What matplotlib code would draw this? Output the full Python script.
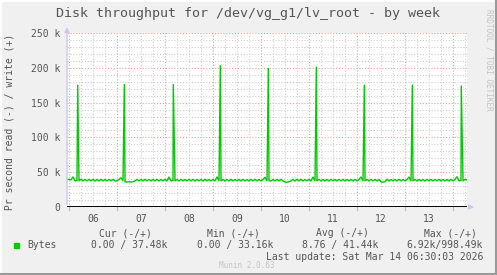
import matplotlib
matplotlib.use("Agg")
import matplotlib.pyplot as plt
import numpy as np
from matplotlib.lines import Line2D

# write throughput (kB/s), hourly, hour 0 = Fri Mar 6 00:00
first_hour = -1
write_before = [39.6]
write_days = [
    [39.6, 38.9, 43.2, 37.6, 37.8, 37.4, 39.9, 37.5, 39.7, 37.4, 39.8, 37.5,
     39.6, 37.3, 39.7, 37.4, 39.8, 37.5, 39.6, 37.4, 39.7, 37.5, 39.6, 37.4],
    [37.5, 39.6, 42.0, 37.8, 36.2, 35.8, 36.3, 35.9, 36.4, 37.4, 39.7, 37.5,
     39.6, 37.4, 39.8, 37.5, 39.6, 37.4, 39.7, 37.5, 39.8, 37.4, 39.6, 37.5],
    [39.7, 37.4, 43.0, 37.6, 37.8, 37.5, 39.7, 37.4, 39.8, 37.5, 39.6, 37.4,
     39.7, 37.5, 39.8, 37.4, 39.6, 37.5, 39.7, 37.4, 39.8, 37.5, 39.6, 37.4],
    [39.7, 37.5, 43.2, 37.6, 37.5, 39.6, 37.4, 39.7, 37.5, 39.8, 37.4, 39.6,
     37.5, 39.7, 37.4, 39.8, 37.5, 39.6, 37.4, 39.7, 37.5, 39.8, 37.4, 39.6],
    [37.5, 39.7, 42.8, 37.6, 37.7, 37.4, 39.6, 37.5, 39.7, 37.4, 39.8, 37.5,
     36.0, 35.4, 36.2, 37.5, 39.6, 37.4, 39.7, 37.5, 39.8, 37.4, 39.6, 37.5],
    [39.7, 37.4, 43.0, 37.6, 37.5, 39.8, 37.4, 39.6, 37.5, 39.7, 37.4, 39.8,
     37.5, 39.6, 37.4, 39.7, 37.5, 39.8, 37.4, 39.6, 37.5, 39.7, 37.4, 39.8],
    [37.5, 39.6, 43.1, 37.6, 37.5, 39.7, 37.4, 39.8, 37.5, 39.6, 37.4, 39.7,
     36.0, 35.6, 36.3, 39.8, 37.4, 39.6, 37.5, 39.7, 37.4, 39.8, 37.5, 39.6],
    [37.4, 39.7, 43.0, 37.6, 37.5, 39.8, 37.4, 39.6, 37.5, 39.7, 37.4, 39.8,
     37.5, 39.6, 37.4, 39.7, 37.5, 39.8, 37.4, 39.6, 37.5, 39.7, 37.4, 39.8],
    [37.5, 39.6, 43.5, 37.6, 37.8, 37.4, 39.6, 38.9],
]

# nightly bursts: hour and peak (kB/s)
burst_hours = [4.35, 27.65, 52.15, 75.65, 99.65, 123.65, 147.65, 171.65, 196.15]
burst_peaks = [175, 176, 176, 203, 199, 201, 175, 175, 174]

day_labels = ["06", "07", "08", "09", "10", "11", "12", "13"]
y_ticks = [0, 50, 100, 150, 200, 250]
y_labels = ["0", "50 k", "100 k", "150 k", "200 k", "250 k"]

legend_head = ["Cur (-/+)", "Min (-/+)", "Avg (-/+)", "Max (-/+)"]
legend_vals = ["0.00 / 37.48k", "0.00 / 33.16k", "8.76 / 41.44k", "6.92k/998.49k"]

W, H = 497, 275
TXT = "#555555"
MONO = "DejaVu Sans Mono"
RED = "#eea0a0"
GREY = "#cfcfcf"


def fx(px):
    return px / W


def fy(py):
    return 1 - py / H


fig = plt.figure(figsize=(W / 100, H / 100), dpi=100, facecolor="#f0f0f0")
ax = fig.add_axes([fx(67), fy(207), 400 / W, 174 / H])
ax.set_facecolor("white")

vals = write_before + [v for day in write_days for v in day]
hours = first_hour + np.arange(len(vals))
t = np.concatenate([hours, burst_hours])
v = np.concatenate([vals, burst_peaks])
order = np.argsort(t)
ax.plot(t[order], v[order], color="#00cc00", lw=1.0, zorder=4)

ax.set_xlim(-1, 199)
ax.set_ylim(0, 250)

# grid
dots = (0, (1, 1.6))
for yy in range(10, 251, 10):
    major = yy % 50 == 0
    ax.axhline(yy, color=RED if major else GREY, lw=0.8, ls=dots, zorder=1)
for hh in range(0, 199, 6):
    major = hh % 24 == 0
    ax.axvline(hh, color=RED if major else GREY, lw=0.8, ls=dots, zorder=1)
    if major:
        ax.plot([hh, hh], [0, -4], color=RED, lw=0.8, clip_on=False)

ax.axhline(0, color="black", lw=1.4, zorder=5)

ax.set_yticks(y_ticks)
ax.set_yticklabels(y_labels)
ax.set_xticks([12 + 24 * i for i in range(len(day_labels))])
ax.set_xticklabels(day_labels)
ax.tick_params(length=0, labelsize=7, colors=TXT, pad=5)
for lab in ax.get_xticklabels() + ax.get_yticklabels():
    lab.set_family(MONO)
for s in ax.spines.values():
    s.set_visible(False)

# axes lines with arrows
axis_col = "#c8c8f0"
ax.annotate("", xy=(0, 1.05), xytext=(0, 0), xycoords="axes fraction",
            arrowprops=dict(arrowstyle="-|>", color=axis_col, lw=1,
                            mutation_scale=7), zorder=6)
ax.annotate("", xy=(1.025, 0), xytext=(1.0, 0), xycoords="axes fraction",
            arrowprops=dict(arrowstyle="-|>", color=axis_col, lw=1,
                            mutation_scale=7), zorder=6)

fig.text(fx(248), fy(14), "Disk throughput for /dev/vg_g1/lv_root - by week",
         ha="center", va="center", family=MONO, fontsize=9.6, color=TXT)
fig.text(fx(10), fy(122), "Pr second read (-) / write (+)", rotation=90,
         ha="center", va="center", family=MONO, fontsize=7, color=TXT)
fig.text(fx(489), fy(60), "RRDTOOL / TOBI OETIKER", rotation=-90,
         ha="center", va="center", family=MONO, fontsize=5.6, color="#c4c4c4")

head_x = [125, 233, 342, 450]
val_x = [167, 273, 378, 483]
for hx, txt in zip(head_x, legend_head):
    fig.text(fx(hx), fy(233), txt, ha="center", va="center", family=MONO,
             fontsize=7, color=TXT)
for vx, txt in zip(val_x, legend_vals):
    fig.text(fx(vx), fy(245), txt, ha="right", va="center", family=MONO,
             fontsize=7, color=TXT)
fig.add_artist(plt.Rectangle((fx(14), fy(248)), 5 / W, 5 / H,
                             transform=fig.transFigure, color="#00cc00"))
fig.text(fx(27), fy(245), "Bytes", ha="left", va="center", family=MONO,
         fontsize=7, color=TXT)
fig.text(fx(483), fy(257), "Last update: Sat Mar 14 06:30:03 2026", ha="right",
         va="center", family=MONO, fontsize=7, color=TXT)
fig.text(fx(247), fy(265), "Munin 2.0.63", ha="center", va="center",
         family=MONO, fontsize=5.6, color="#c4c4c4")

# outer frame
fig.add_artist(Line2D([0, 0], [0, 1], transform=fig.transFigure,
                      color="white", lw=2))
fig.add_artist(Line2D([0, 1], [1, 1], transform=fig.transFigure,
                      color="white", lw=2))
fig.add_artist(Line2D([0, 1], [fy(273.5), fy(273.5)], transform=fig.transFigure,
                      color="#9a9a9a", lw=2.2))
fig.add_artist(Line2D([fx(495.5), fx(495.5)], [0, 1], transform=fig.transFigure,
                      color="#9a9a9a", lw=2.2))

fig.savefig("out.png", dpi=100, facecolor=fig.get_facecolor())
